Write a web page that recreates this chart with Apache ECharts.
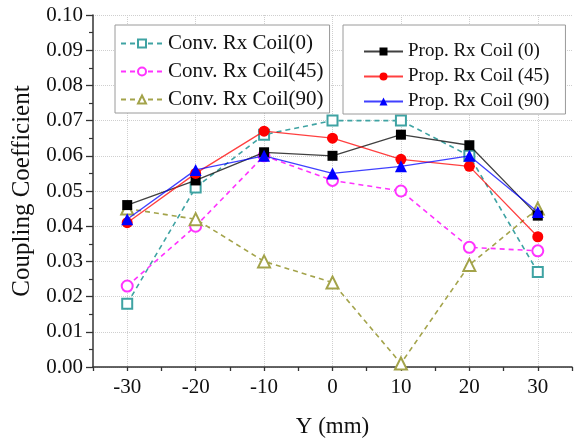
<!DOCTYPE html>
<html>
<head>
    <meta charset="utf-8">
    <script src="https://cdn.jsdelivr.net/npm/echarts@6/dist/echarts.min.js"></script>
    <style>
        html, body { margin: 0; padding: 0; background: #fff; }
    </style>
</head>
<body>
<div id="main" style="width: 578px;height:439px;"></div>
<script type="text/javascript">
    // 数据
    var positions = [-30, -20, -10, 0, 10, 20, 30];
    var conv0  = [0.018, 0.051, 0.066, 0.070, 0.070, 0.060, 0.027];
    var conv45 = [0.023, 0.040, 0.060, 0.053, 0.050, 0.034, 0.033];
    var conv90 = [0.045, 0.042, 0.030, 0.024, 0.001, 0.029, 0.045];
    var prop0  = [0.046, 0.053, 0.061, 0.060, 0.066, 0.063, 0.043];
    var prop45 = [0.041, 0.055, 0.067, 0.065, 0.059, 0.057, 0.037];
    var prop90 = [0.042, 0.056, 0.060, 0.055, 0.057, 0.060, 0.044];

    var font = 'Liberation Serif';

    function pairs(arr) {
        return positions.map(function (x, i) { return [x, arr[i]]; });
    }

    function convSeries(name, arr, color, symbol, size) {
        return {
            name: name, type: 'line', data: pairs(arr),
            symbol: symbol, symbolSize: size, showAllSymbol: true,
            itemStyle: { color: color, borderColor: color, borderWidth: 1.2 },
            lineStyle: { color: color, width: 1.6, type: [5, 4] },
            emphasis: { disabled: true }, animation: false, z: 2
        };
    }
    function propSeries(name, arr, color, symbol, size) {
        return {
            name: name, type: 'line', data: pairs(arr),
            symbol: symbol, symbolSize: size,
            itemStyle: { color: color },
            lineStyle: { color: color, width: 1.3, opacity: 0.75 },
            emphasis: { disabled: true }, animation: false, z: 3
        };
    }

    var myChart = echarts.init(document.getElementById('main'));

    var option = {
        backgroundColor: '#fff',
        animation: false,
        grid: { left: 93, right: 6, top: 15, bottom: 72, containLabel: false, outerBoundsMode: 'none' },
        legend: [{
            data: ['Conv. Rx Coil(0)', 'Conv. Rx Coil(45)', 'Conv. Rx Coil(90)'],
            orient: 'vertical', left: 115, top: 25,
            padding: [8, 6, 3, 5], itemGap: 7,
            itemWidth: 42, itemHeight: 10,
            borderColor: '#9a9a9a', borderWidth: 1, backgroundColor: '#fff',
            textStyle: { fontFamily: font, fontSize: 21, color: '#111' },
            selectedMode: false
        }, {
            data: ['Prop. Rx Coil (0)', 'Prop. Rx Coil (45)', 'Prop. Rx Coil (90)'],
            orient: 'vertical', left: 343, top: 25,
            padding: [17, 16, 3, 20], itemGap: 6,
            itemWidth: 39, itemHeight: 10,
            borderColor: '#9a9a9a', borderWidth: 1, backgroundColor: '#fff',
            textStyle: { fontFamily: font, fontSize: 19, color: '#111' },
            selectedMode: false
        }],
        xAxis: {
            type: 'value', min: -35, max: 35, interval: 5,
            name: 'Y (mm)', nameLocation: 'middle', nameGap: 48,
            nameTextStyle: { fontFamily: font, fontSize: 23, color: '#111' },
            axisLine: { show: true, onZero: false, lineStyle: { color: '#333', width: 1.5 } },
            axisTick: { show: true, length: 4, lineStyle: { color: '#333', width: 1.3 } },
            axisLabel: {
                fontFamily: font, fontSize: 21, color: '#111', margin: 10,
                formatter: function (v) { return v % 10 === 0 ? String(v) : ''; }
            },
            splitLine: {
                show: true,
                lineStyle: { color: ['rgba(0,0,0,0)', '#cfcfcf'], type: 'dotted', width: 1 }
            }
        },
        yAxis: {
            type: 'value', min: 0, max: 0.10, interval: 0.01,
            name: 'Coupling Coefficient', nameLocation: 'middle', nameGap: 57,
            nameTextStyle: { fontFamily: font, fontSize: 25, color: '#111' },
            axisLine: { show: true, onZero: false, lineStyle: { color: '#333', width: 1.5 } },
            axisTick: { show: true, length: 7, lineStyle: { color: '#333', width: 1.3 } },
            minorTick: { show: true, splitNumber: 2, length: 4, lineStyle: { color: '#333', width: 1.2 } },
            axisLabel: {
                fontFamily: font, fontSize: 21, color: '#111', margin: 10,
                formatter: function (v) { return v.toFixed(2); }
            },
            splitLine: { show: true, lineStyle: { color: '#cfcfcf', type: 'dotted', width: 1 } }
        },
        series: [
            convSeries('Conv. Rx Coil(0)', conv0, '#3fa3a3', 'emptyRect', 10),
            convSeries('Conv. Rx Coil(45)', conv45, '#ff33ff', 'emptyCircle', 11),
            convSeries('Conv. Rx Coil(90)', conv90, '#a3a34a', 'emptyTriangle', 12),
            propSeries('Prop. Rx Coil (0)', prop0, '#000000', 'rect', 10),
            propSeries('Prop. Rx Coil (45)', prop45, '#ff0000', 'circle', 11),
            propSeries('Prop. Rx Coil (90)', prop90, '#0000ff', 'triangle', 12)
        ]
    };

    myChart.setOption(option);
</script>
</body>
</html>
